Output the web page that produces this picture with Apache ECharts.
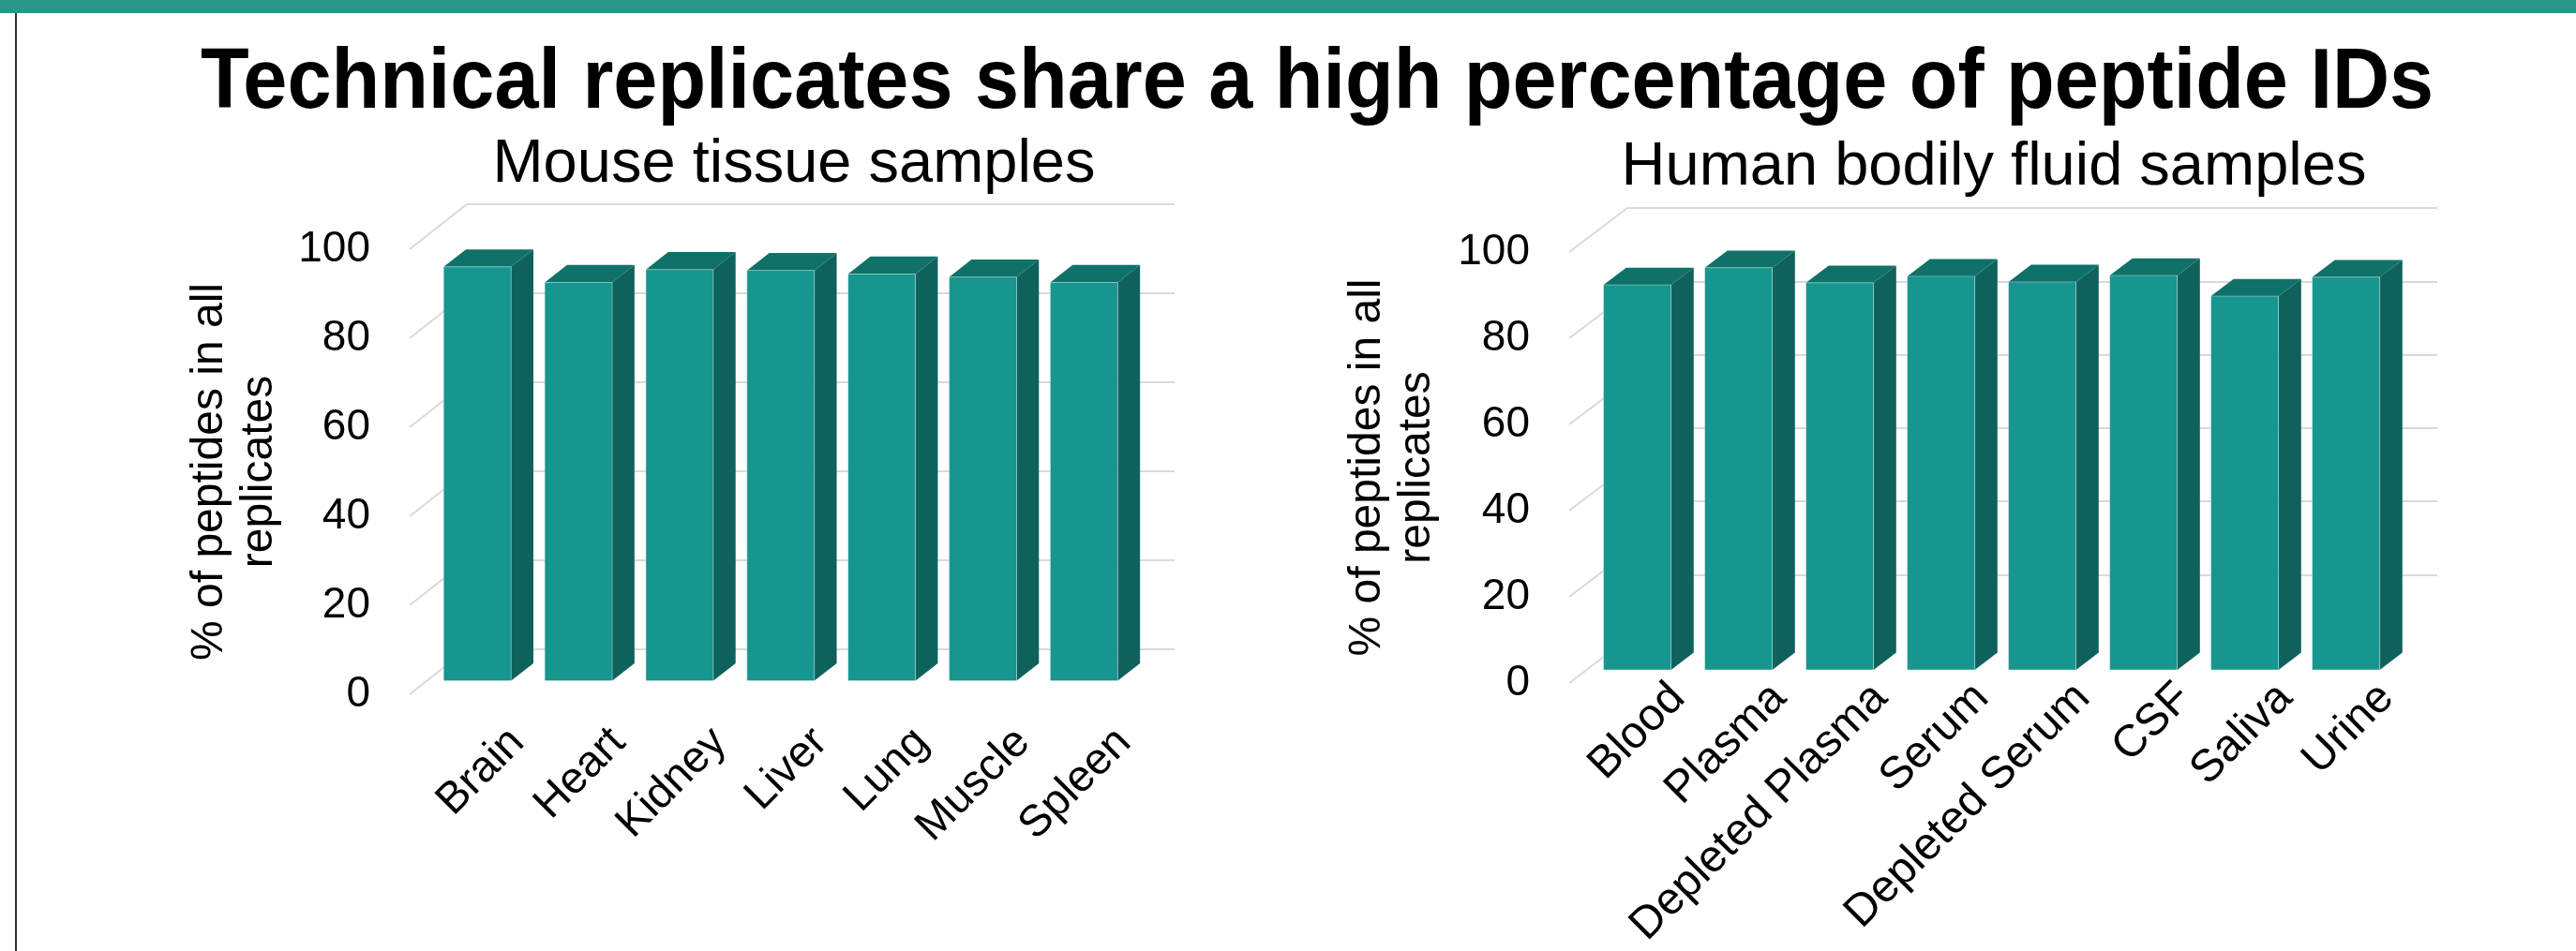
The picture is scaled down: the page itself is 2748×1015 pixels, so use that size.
<!DOCTYPE html>
<html>
<head>
<meta charset="utf-8">
<script src="https://cdn.jsdelivr.net/npm/echarts@6/dist/echarts.min.js"></script>
<style>
html, body { margin: 0; padding: 0; background: #fff; }
#chart { width: 2748px; height: 1015px; }
</style>
</head>
<body>
<div id="chart"></div>
<script>
// 数据
const mouseTissues = ['Brain', 'Heart', 'Kidney', 'Liver', 'Lung', 'Muscle', 'Spleen'];
const mouseShared = [93.0, 89.5, 92.4, 92.2, 91.4, 90.7, 89.5];
const humanFluids = ['Blood', 'Plasma', 'Depleted Plasma', 'Serum', 'Depleted Serum', 'CSF', 'Saliva', 'Urine'];
const humanShared = [89.3, 93.3, 89.8, 91.3, 90.0, 91.5, 86.7, 91.1];
const yTicks = [0, 20, 40, 60, 80, 100];
const yAxisName = '% of peptides in all\nreplicates';

// 颜色
const colors = {
    front: '#16968f',
    side: '#0e625b',
    top: '#107169',
    grid: '#d9d9d9',
    band: '#2b9687'
};
const fontFamily = '"Liberation Sans", Arial, sans-serif';

// 每个面板: 前平面网格 + 后墙偏移 (伪3D)
const panels = [
    { cats: mouseTissues, vals: mouseShared, left: 437, top: 266, width: 755, height: 475, wall: [61, -48], nameGap: 134, labelMargin: 92, labelSize: 47 },
    { cats: humanFluids, vals: humanShared, left: 1674, top: 269, width: 864, height: 460, wall: [62, -47], nameGap: 136, labelMargin: 124, labelSize: 48 }
];

const grids = [], xAxes = [], yAxes = [], series = [];

panels.forEach(function(p, k) {
    const fi = k * 2, wi = k * 2 + 1;
    // 前平面
    grids.push({ left: p.left, top: p.top, width: p.width, height: p.height });
    // 后墙
    grids.push({ left: p.left + p.wall[0], top: p.top + p.wall[1], width: p.width, height: p.height });

    xAxes.push({
        type: 'category', gridIndex: fi, data: p.cats,
        axisLine: { show: false }, axisTick: { show: false }, axisLabel: { show: false }
    });
    xAxes.push({
        type: 'category', gridIndex: wi, data: p.cats,
        axisLine: { show: false }, axisTick: { show: false },
        axisLabel: {
            interval: 0, rotate: 45, margin: p.labelMargin,
            fontFamily: fontFamily, fontSize: p.labelSize, color: '#000'
        }
    });

    yAxes.push({
        type: 'value', gridIndex: fi, min: 0, max: 100, interval: 20,
        axisLine: { show: false }, axisTick: { show: false }, splitLine: { show: false },
        axisLabel: { margin: 42, fontFamily: fontFamily, fontSize: 46, color: '#000' },
        name: yAxisName, nameLocation: 'middle', nameRotate: 90, nameGap: p.nameGap,
        nameTextStyle: { fontFamily: fontFamily, fontSize: 48, lineHeight: 53, color: '#000', align: 'center' }
    });
    yAxes.push({
        type: 'value', gridIndex: wi, min: 0, max: 100, interval: 20,
        axisLine: { show: false }, axisTick: { show: false }, axisLabel: { show: false },
        splitLine: { lineStyle: { color: colors.grid, width: 2 } }
    });

    // 左侧斜线 (前平面刻度 -> 后墙)
    series.push({
        type: 'custom', xAxisIndex: fi, yAxisIndex: fi, silent: true,
        data: yTicks.map(v => [0, v]),
        renderItem: function(params, api) {
            const cs = params.coordSys;
            const y = api.coord([0, api.value(1)])[1];
            return {
                type: 'line',
                shape: { x1: cs.x, y1: y, x2: cs.x + p.wall[0], y2: y + p.wall[1] },
                style: { stroke: colors.grid, lineWidth: 2 }
            };
        }
    });

    // 3D 柱子
    series.push({
        type: 'custom', xAxisIndex: fi, yAxisIndex: fi,
        data: p.vals.map((v, i) => [i, v]),
        renderItem: function(params, api) {
            const i = api.value(0), v = api.value(1);
            const topPt = api.coord([i, v]);
            const basePt = api.coord([i, 0]);
            const bw = api.size([1, 0])[0];
            const w = bw * 0.667;
            const ox = p.wall[0] * 0.3, oy = p.wall[1] * 0.3;
            const dx = p.wall[0] * 0.39, dy = p.wall[1] * 0.39;
            const x0 = topPt[0] + ox - w / 2, x1 = x0 + w;
            const yT = topPt[1] + oy, yB = basePt[1] + oy;
            return {
                type: 'group',
                children: [
                    {
                        type: 'polygon',
                        shape: { points: [[x1, yT], [x1 + dx, yT + dy], [x1 + dx, yB + dy], [x1, yB]] },
                        style: { fill: colors.side }
                    },
                    {
                        type: 'polygon',
                        shape: { points: [[x0, yT], [x0 + dx, yT + dy], [x1 + dx, yT + dy], [x1, yT]] },
                        style: { fill: colors.top }
                    },
                    {
                        type: 'rect',
                        shape: { x: x0, y: yT, width: w, height: yB - yT },
                        style: { fill: colors.front, stroke: 'rgba(255,255,255,0.35)', lineWidth: 1 }
                    }
                ]
            };
        }
    });
});

const chart = echarts.init(document.getElementById('chart'));

chart.setOption({
    backgroundColor: '#fff',
    animation: false,
    grid: grids,
    xAxis: xAxes,
    yAxis: yAxes,
    graphic: [
        { type: 'rect', left: 0, top: 0, shape: { width: 2748, height: 14 }, style: { fill: colors.band } },
        { type: 'line', shape: { x1: 17, y1: 14, x2: 17, y2: 1015 }, style: { stroke: '#333', lineWidth: 2 } },
        {
            type: 'text', x: 1405, y: 90, scaleX: 0.94,
            style: {
                text: 'Technical replicates share a high percentage of peptide IDs',
                font: 'bold 90px ' + fontFamily, fill: '#000',
                textAlign: 'center', textVerticalAlign: 'middle'
            }
        },
        {
            type: 'text', x: 847, y: 176,
            style: {
                text: 'Mouse tissue samples',
                font: '65px ' + fontFamily, fill: '#000',
                textAlign: 'center', textVerticalAlign: 'middle'
            }
        },
        {
            type: 'text', x: 2127, y: 179,
            style: {
                text: 'Human bodily fluid samples',
                font: '65px ' + fontFamily, fill: '#000',
                textAlign: 'center', textVerticalAlign: 'middle'
            }
        }
    ],
    series: series
});

window.addEventListener('resize', function() {
    chart.resize();
});
</script>
</body>
</html>
